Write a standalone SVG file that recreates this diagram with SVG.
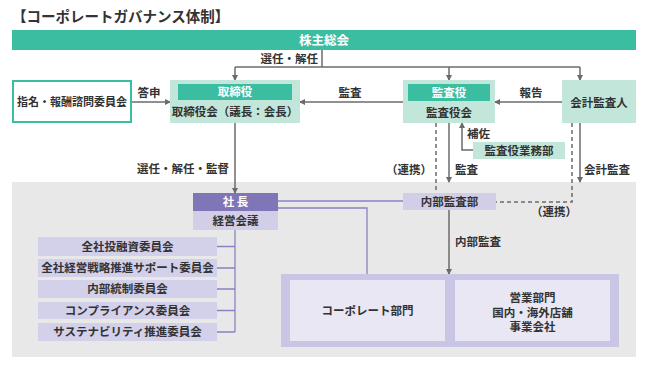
<svg xmlns="http://www.w3.org/2000/svg" width="648" height="366" viewBox="0 0 648 366">
<defs>
<marker id="ah" markerWidth="6" markerHeight="6" refX="5" refY="3" orient="auto" markerUnits="userSpaceOnUse">
<path d="M0,0 L6,3 L0,6 Z" fill="#6b6b6b"/>
</marker>
<style>
text{font-family:"Noto Sans CJK JP","Noto Sans",sans-serif;font-weight:bold;fill:#333;font-size:11.5px}
.c{text-anchor:middle}
.w{fill:#fff}
.g{stroke:#6b6b6b;stroke-width:1.5;fill:none}
.d{stroke:#6b6b6b;stroke-width:1.5;fill:none;stroke-dasharray:4 3}
.p{stroke:#8783c4;stroke-width:1.3;fill:none}
.a{marker-end:url(#ah)}
</style>
</defs>
<rect x="0" y="0" width="648" height="366" fill="#fff"/>
<text x="12" y="22" style="font-size:14.5px">【コーポレートガバナンス体制】</text>
<rect x="12" y="182" width="624" height="175" fill="#e8e8e9"/>

<g id="connectors">
<path class="g" d="M322,50 V67"/>
<path class="g" d="M235,67 H580"/>
<path class="g a" d="M235,67 V80"/>
<path class="g a" d="M449,67 V80"/>
<path class="g a" d="M580,67 V80"/>
<path class="g a" d="M132,102 H170"/>
<path class="g a" d="M403,102 H300"/>
<path class="g a" d="M562,102 H495"/>
<path class="g a" d="M235,123 V193"/>
<path class="g a" d="M449,123 V182"/>
<path class="g a" d="M580,123 V182"/>
<path class="g a" d="M473,150 H462 V123"/>
<path class="d" d="M436,123 V193"/>
<path class="d" d="M572,123 V202 H496"/>
<path class="g a" d="M449,210 V274"/>
<path class="p" d="M278,201 H403"/>
<path class="p" d="M278,208 H367 V274"/>
<path class="p" d="M235,230 V332"/>
<path class="p" d="M217,246.5 H235 M217,268 H235 M217,289 H235 M217,310.5 H235 M217,332 H235"/>
</g>

<g id="labels">
<text x="318" y="63" text-anchor="end">選任・解任</text>
<text x="149" y="97" class="c">答申</text>
<text x="350" y="97" class="c">監査</text>
<text x="531" y="97" class="c">報告</text>
<text x="467" y="138">補佐</text>
<text x="137" y="173">選任・解任・監督</text>
<text x="432" y="174" text-anchor="end">（連携）</text>
<text x="455" y="174">監査</text>
<text x="584" y="174">会計監査</text>
<text x="577" y="216" text-anchor="end">（連携）</text>
<text x="455" y="246">内部監査</text>
</g>

<g id="shareholders">
<rect x="12" y="30" width="624" height="20" fill="#3bbda2"/>
<text x="324" y="44.5" class="c w" style="font-size:12.5px">株主総会</text>
</g>

<g id="nomination">
<rect x="13" y="81" width="118" height="41" fill="#fff" stroke="#3bbda2" stroke-width="2"/>
<text x="72" y="105.5" class="c" style="font-size:11px">指名・報酬諮問委員会</text>
</g>

<g id="board">
<rect x="170" y="80" width="130" height="43" fill="#c2e6da"/>
<rect x="178" y="84" width="114" height="16" fill="#3bbda2"/>
<text x="235" y="96" class="c w">取締役</text>
<text x="235" y="116" class="c">取締役会（議長：会長）</text>
</g>

<g id="auditors">
<rect x="403" y="80" width="92" height="43" fill="#c2e6da"/>
<rect x="408" y="84" width="82" height="17" fill="#3bbda2"/>
<text x="449" y="96.5" class="c w">監査役</text>
<text x="449" y="116.5" class="c">監査役会</text>
</g>

<g id="accounting-auditor">
<rect x="562" y="80" width="74" height="43" fill="#c2e6da"/>
<text x="599" y="107" class="c">会計監査人</text>
</g>

<g id="auditor-office">
<rect x="473" y="142" width="92" height="17" fill="#c2e6da"/>
<text x="519" y="154.5" class="c">監査役業務部</text>
</g>

<g id="president">
<rect x="193" y="193" width="85" height="18" fill="#7f76b8"/>
<text x="235.5" y="206" class="c w">社 長</text>
<rect x="193" y="211" width="85" height="19" fill="#d2cee8"/>
<text x="235.5" y="224.5" class="c">経営会議</text>
</g>

<g id="internal-audit">
<rect x="403" y="193" width="93" height="17" fill="#d2cee8"/>
<text x="449.5" y="206" class="c">内部監査部</text>
</g>

<g id="committees">
<rect x="38" y="237" width="179" height="19" fill="#d3d0ea"/>
<text x="127.5" y="250.5" class="c">全社投融資委員会</text>
<rect x="38" y="259" width="179" height="18" fill="#d3d0ea"/>
<text x="127.5" y="272" class="c" style="font-size:11.5px">全社経営戦略推進サポート委員会</text>
<rect x="38" y="280" width="179" height="18" fill="#d3d0ea"/>
<text x="127.5" y="293" class="c">内部統制委員会</text>
<rect x="38" y="302" width="179" height="17" fill="#d3d0ea"/>
<text x="127.5" y="314.5" class="c">コンプライアンス委員会</text>
<rect x="38" y="323" width="179" height="18" fill="#d3d0ea"/>
<text x="127.5" y="336" class="c">サステナビリティ推進委員会</text>
</g>

<g id="divisions">
<rect x="281" y="274" width="338" height="73" fill="#c9c5e4"/>
<rect x="290" y="280" width="155" height="61" fill="#e9e7f4"/>
<text x="367.5" y="314.5" class="c">コーポレート部門</text>
<rect x="455" y="280" width="155" height="61" fill="#e9e7f4"/>
<text x="532.5" y="302" class="c">営業部門</text>
<text x="532.5" y="316.5" class="c">国内・海外店舗</text>
<text x="532.5" y="331" class="c">事業会社</text>
</g>
</svg>
